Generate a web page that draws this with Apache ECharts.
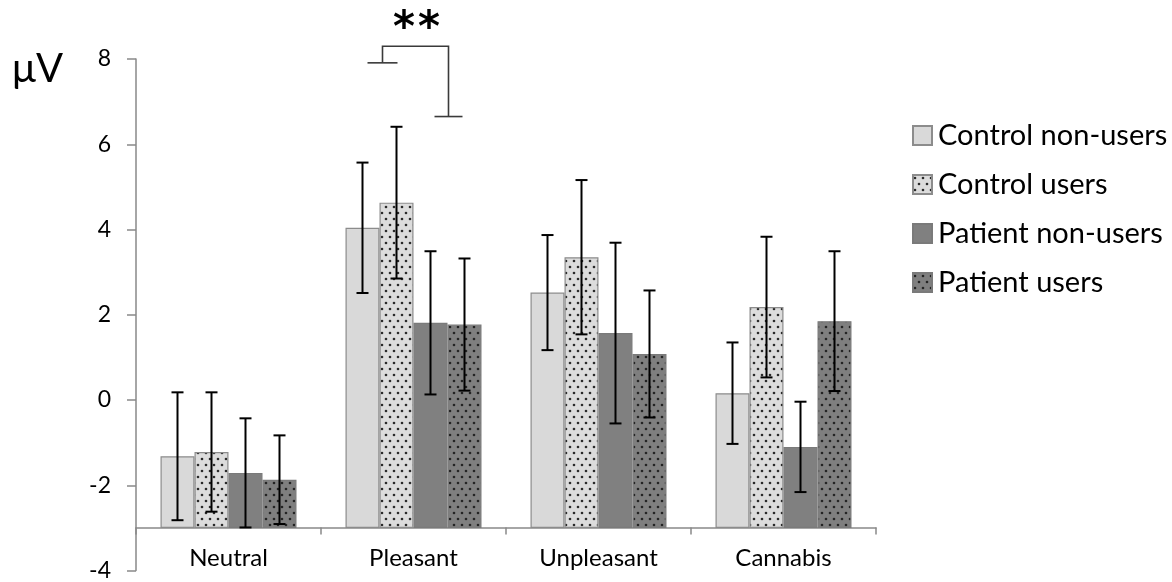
<!DOCTYPE html>
<html><head><meta charset="utf-8">
<script src="https://cdn.jsdelivr.net/npm/echarts@6/dist/echarts.min.js"></script>
<style>html,body{margin:0;padding:0;background:#fff}#c{width:1172px;height:582px}</style>
</head><body><div id="c"></div>
<script>
// ---- data ----
const categories = ['Neutral', 'Pleasant', 'Unpleasant', 'Cannabis'];
const seriesNames = ['Control non-users', 'Control users', 'Patient non-users', 'Patient users'];
const controlNonUsers = [-1.32, 4.04, 2.52, 0.16];
const controlUsers = [-1.22, 4.63, 3.35, 2.18];
const patientNonUsers = [-1.71, 1.81, 1.57, -1.10];
const patientUsers = [-1.87, 1.77, 1.08, 1.85];
const errControlNonUsers = [1.50, 1.53, 1.35, 1.19];
const errControlUsers = [1.40, 1.78, 1.81, 1.65];
const errPatientNonUsers = [1.28, 1.68, 2.12, 1.06];
const errPatientUsers = [1.04, 1.55, 1.49, 1.64];
const yMin = -4, yMax = 8, yStep = 2;
const baseValue = -3;              // bars and category axis sit at -3
const bracketLevels = [7.91, 8.30, 6.65]; // left foot, top, right foot
const starLevel = 8.88;
const starText = '**';
const axisTitle = 'μV';

// ---- layout / style ----
const GRID = {left: 136, right: 296, top: 59, bottom: 8};
const BAR_W = 34;
const FONT = 'Lato';
const AXIS_COLOR = '#898989';

function makePattern(bg, dot) {
  const c = document.createElement('canvas');
  c.width = 8; c.height = 12;
  const g = c.getContext('2d');
  g.fillStyle = bg; g.fillRect(0, 0, 8, 12);
  g.fillStyle = dot;
  [[2, 3], [6, 9]].forEach(p => { g.beginPath(); g.arc(p[0], p[1], 1.3, 0, Math.PI * 2); g.fill(); });
  return c;
}
const fills = [
  {color: '#d9d9d9', borderColor: '#8c8c8c'},
  {color: {image: makePattern('#dcdcdc', '#2a2a2a'), repeat: 'repeat'}, borderColor: '#8c8c8c'},
  {color: '#808080', borderColor: '#7a7a7a'},
  {color: {image: makePattern('#7f7f7f', '#242424'), repeat: 'repeat'}, borderColor: '#7a7a7a'}
];
const means = [controlNonUsers, controlUsers, patientNonUsers, patientUsers];
const errs = [errControlNonUsers, errControlUsers, errPatientNonUsers, errPatientUsers];

const chart = echarts.init(document.getElementById('c'), null, {renderer: 'canvas'});
const gridH = 582 - GRID.top - GRID.bottom;
const xOffset = -(baseValue - yMin) * gridH / (yMax - yMin);

const barSeries = seriesNames.map((name, i) => ({
  name, type: 'bar', data: means[i], barWidth: BAR_W, barGap: '0%',
  itemStyle: {color: fills[i].color, borderColor: fills[i].borderColor, borderWidth: 1.2},
  emphasis: {disabled: true}, z: 2
}));

const errData = [];
means.forEach((arr, si) => arr.forEach((m, ci) => errData.push([ci, m, errs[si][ci], si])));

const errorSeries = {
  type: 'custom', name: 'err', data: errData, z: 5, clip: false, silent: true,
  renderItem(params, api) {
    const ci = api.value(0), m = api.value(1), e = api.value(2), si = api.value(3);
    const c = api.coord([ci, m]);
    const x = c[0] + (si - 1.5) * BAR_W;
    const yt = api.coord([ci, m + e])[1];
    const yb = api.coord([ci, m - e])[1];
    const st = {stroke: '#000', lineWidth: 2, fill: null};
    return {type: 'group', children: [
      {type: 'line', shape: {x1: x, y1: yt, x2: x, y2: yb}, style: st},
      {type: 'line', shape: {x1: x - 6, y1: yt, x2: x + 6, y2: yt}, style: st},
      {type: 'line', shape: {x1: x - 6, y1: yb, x2: x + 6, y2: yb}, style: st}
    ]};
  }
};

const STAR_SIZE = 42, STAR_STEP = 25;
const bracketSeries = {
  type: 'custom', name: 'sig', data: [[1]], z: 6, clip: false, silent: true,
  renderItem(params, api) {
    const ci = api.value(0);
    const cx = api.coord([ci, 0])[0];
    const xl = cx - 31, xr = cx + 35;
    const yl = api.coord([ci, bracketLevels[0]])[1];
    const yt = api.coord([ci, bracketLevels[1]])[1];
    const yr = api.coord([ci, bracketLevels[2]])[1];
    const ys = api.coord([ci, starLevel])[1];
    const st = {stroke: '#3a3a3a', lineWidth: 1.6, fill: null};
    const chars = starText.split('');
    const stars = chars.map((ch, k) => ({
      type: 'text', x: cx + 3 + (k - (chars.length - 1) / 2) * STAR_STEP, y: ys + STAR_SIZE * 0.2,
      style: {text: ch, fill: '#000', font: 'bold ' + STAR_SIZE + 'px "DejaVu Sans"', align: 'center', verticalAlign: 'middle'}
    }));
    return {type: 'group', children: [
      {type: 'polyline', shape: {points: [[xl, yl], [xl, yt], [xr, yt], [xr, yr]]}, style: st},
      {type: 'line', shape: {x1: xl - 15, y1: yl, x2: xl + 15, y2: yl}, style: st},
      {type: 'line', shape: {x1: xr - 14, y1: yr, x2: xr + 14, y2: yr}, style: st}
    ].concat(stars)};
  }
};

chart.setOption({
  animation: false,
  backgroundColor: '#fff',
  textStyle: {fontFamily: FONT},
  grid: GRID,
  legend: {
    orient: 'vertical', left: 907, top: 116, itemWidth: 19, itemHeight: 19, itemGap: 20,
    icon: 'rect', data: seriesNames,
    textStyle: {fontSize: 29, color: '#000', fontFamily: FONT, padding: [0, 0, 0, 1]},
    selectedMode: false
  },
  xAxis: {
    type: 'category', data: categories, position: 'bottom', offset: xOffset,
    axisLine: {onZero: false, lineStyle: {color: AXIS_COLOR, width: 1.5}},
    axisTick: {show: true, length: 7, alignWithLabel: false, lineStyle: {color: AXIS_COLOR, width: 1.5}},
    axisLabel: {fontSize: 24, color: '#000', margin: 19, fontFamily: FONT},
    splitLine: {show: false}
  },
  yAxis: {
    type: 'value', min: yMin, max: yMax, interval: yStep, startValue: baseValue,
    name: axisTitle, nameLocation: 'end', nameGap: -10,
    nameTextStyle: {fontSize: 40, color: '#000', align: 'right', verticalAlign: 'middle', padding: [0, 73, 0, 0], fontFamily: FONT},
    axisLine: {show: true, lineStyle: {color: AXIS_COLOR, width: 1.5}},
    axisTick: {show: true, length: 9, lineStyle: {color: AXIS_COLOR, width: 1.5}},
    axisLabel: {fontSize: 23, color: '#000', margin: 25, fontFamily: FONT},
    splitLine: {show: false}
  },
  series: [...barSeries, errorSeries, bracketSeries]
});
</script></body></html>
